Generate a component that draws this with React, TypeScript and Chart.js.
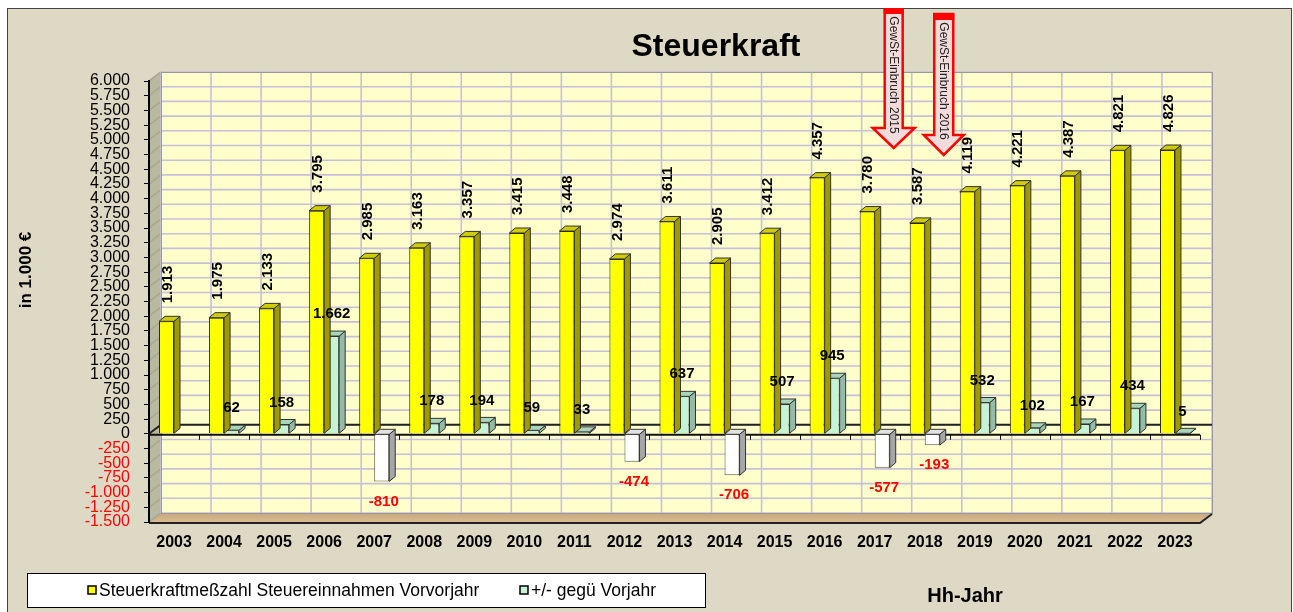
import React, { useEffect, useRef } from "react";
import { Chart, registerables } from "chart.js";

Chart.register(...registerables);

const years = ["2003", "2004", "2005", "2006", "2007", "2008", "2009", "2010", "2011", "2012", "2013", "2014", "2015", "2016", "2017", "2018", "2019", "2020", "2021", "2022", "2023"];
const steuerkraft = [1913, 1975, 2133, 3795, 2985, 3163, 3357, 3415, 3448, 2974, 3611, 2905, 3412, 4357, 3780, 3587, 4119, 4221, 4387, 4821, 4826];
const veraenderung: (number | null)[] = [null, 62, 158, 1662, -810, 178, 194, 59, 33, -474, 637, -706, 507, 945, -577, -193, 532, 102, 167, 434, 5];
const seriesNames = ["Steuerkraftmeßzahl Steuereinnahmen Vorvorjahr", "+/- gegü Vorjahr"];
const yMin = -1500;
const yMax = 6000;
const yStep = 250;
const chartTitle = "Steuerkraft";
const yTitle = "in 1.000 €";
const xTitle = "Hh-Jahr";
const arrowNotes = ["GewSt-Einbruch 2015", "GewSt-Einbruch 2016"];
const arrowYears = ["2017", "2018"];

const FONT = "'Liberation Sans', Arial, sans-serif";

function fmt(v: number): string {
  const s = Math.abs(Math.round(v)).toString();
  let out = "";
  for (let i = 0; i < s.length; i++) {
    if (i > 0 && (s.length - i) % 3 === 0) out += ".";
    out += s[i];
  }
  return (v < 0 ? "-" : "") + out;
}

const DX = 12;
const DY = -9;
const BDX = 6;
const BDY = -5;

const decorPlugin = {
  id: "decor",
  beforeDraw(chart: any) {
    const ctx = chart.ctx;
    const { left, right, top, bottom } = chart.chartArea;
    const W = chart.width;
    const H = chart.height;
    const yS = chart.scales.y;
    const xS = chart.scales.x;
    ctx.save();
    ctx.fillStyle = "#DDD9C4";
    ctx.fillRect(0, 0, W, H);
    ctx.strokeStyle = "#444";
    ctx.lineWidth = 1;
    ctx.strokeRect(0.5, 0.5, W - 1, H - 1);

    // back wall
    ctx.fillStyle = "#FFFFCC";
    ctx.fillRect(left + DX, top + DY, right - left, bottom - top);
    // left wall
    ctx.beginPath();
    ctx.moveTo(left, top);
    ctx.lineTo(left + DX, top + DY);
    ctx.lineTo(left + DX, bottom + DY);
    ctx.lineTo(left, bottom);
    ctx.closePath();
    ctx.fillStyle = "#B9B99F";
    ctx.fill();
    // floor
    const g = ctx.createLinearGradient(0, bottom + DY, 0, bottom);
    g.addColorStop(0, "#C9A77E");
    g.addColorStop(1, "#DDBB92");
    ctx.beginPath();
    ctx.moveTo(left, bottom);
    ctx.lineTo(right, bottom);
    ctx.lineTo(right + DX, bottom + DY);
    ctx.lineTo(left + DX, bottom + DY);
    ctx.closePath();
    ctx.fillStyle = g;
    ctx.fill();

    // grid lines on back wall
    ctx.strokeStyle = "#C6C0D8";
    ctx.lineWidth = 1.6;
    for (let v = yMin; v <= yMax; v += yStep) {
      const py = yS.getPixelForValue(v) + DY;
      ctx.beginPath();
      ctx.moveTo(left + DX, py);
      ctx.lineTo(right + DX, py);
      ctx.stroke();
      ctx.beginPath();
      ctx.moveTo(left, py - DY);
      ctx.lineTo(left + DX, py);
      ctx.strokeStyle = "#A9A990";
      ctx.stroke();
      ctx.strokeStyle = "#C6C0D8";
    }
    for (let i = 0; i <= years.length; i++) {
      const px = (i === years.length ? right : xS.getPixelForValue(i) - (xS.getPixelForValue(1) - xS.getPixelForValue(0)) / 2) + DX;
      ctx.beginPath();
      ctx.moveTo(px, top + DY);
      ctx.lineTo(px, bottom + DY);
      ctx.stroke();
    }
    ctx.strokeStyle = "#999";
    ctx.lineWidth = 1;
    ctx.strokeRect(left + DX + 0.5, top + DY + 0.5, right - left, bottom - top);

    // back zero line
    const y0 = yS.getPixelForValue(0);
    ctx.strokeStyle = "#222";
    ctx.lineWidth = 2;
    ctx.beginPath();
    ctx.moveTo(left, y0);
    ctx.lineTo(left + DX, y0 + DY);
    ctx.lineTo(right + DX, y0 + DY);
    ctx.stroke();

    // floor front edge
    ctx.lineWidth = 2;
    ctx.strokeStyle = "#222";
    ctx.beginPath();
    ctx.moveTo(left, bottom + 1);
    ctx.lineTo(right, bottom + 1);
    ctx.lineTo(right + DX, bottom + DY + 1);
    ctx.stroke();
    ctx.restore();
  },
  beforeDatasetsDraw(chart: any) {
    const ctx = chart.ctx;
    const { left, right } = chart.chartArea;
    const yS = chart.scales.y;
    const xS = chart.scales.x;
    const y0 = yS.getPixelForValue(0) + 1;
    const step = xS.getPixelForValue(1) - xS.getPixelForValue(0);
    ctx.save();
    ctx.strokeStyle = "#111";
    ctx.lineWidth = 2;
    ctx.beginPath();
    ctx.moveTo(left, y0);
    ctx.lineTo(right, y0);
    ctx.stroke();
    ctx.lineWidth = 1;
    for (let i = 1; i <= years.length; i++) {
      const px = Math.round(xS.getPixelForValue(i) - step / 2) + 0.5;
      ctx.beginPath();
      ctx.moveTo(px, y0);
      ctx.lineTo(px, y0 + 5);
      ctx.stroke();
    }
    ctx.restore();
  },
  afterDatasetDraw(chart: any, args: any) {
    const ctx = chart.ctx;
    const idx = args.index;
    const ds = chart.data.datasets[idx];
    const meta = args.meta;
    ctx.save();
    ctx.strokeStyle = "#333";
    ctx.lineWidth = 1;
    meta.data.forEach((el: any, i: number) => {
      const v = ds.data[i];
      if (v === null || v === undefined) return;
      const { x, y, base, width } = el.getProps(["x", "y", "base", "width"], true);
      const x0 = x - width / 2;
      const x1 = x + width / 2;
      const t = Math.min(y, base);
      const b = Math.max(y, base);
      let topC: string, sideC: string;
      if (idx === 0) {
        topC = "#CFCC00";
        sideC = "#9E9B00";
      } else if (v < 0) {
        topC = "#E2E2E2";
        sideC = "#A6A6A6";
      } else {
        topC = "#A9D6BB";
        sideC = "#93BCA4";
      }
      ctx.beginPath();
      ctx.moveTo(x1, t);
      ctx.lineTo(x1 + BDX, t + BDY);
      ctx.lineTo(x1 + BDX, b + BDY);
      ctx.lineTo(x1, b);
      ctx.closePath();
      ctx.fillStyle = sideC;
      ctx.fill();
      ctx.stroke();
      ctx.beginPath();
      ctx.moveTo(x0, t);
      ctx.lineTo(x0 + BDX, t + BDY);
      ctx.lineTo(x1 + BDX, t + BDY);
      ctx.lineTo(x1, t);
      ctx.closePath();
      ctx.fillStyle = topC;
      ctx.fill();
      ctx.stroke();
    });
    ctx.restore();
  },
  afterDraw(chart: any) {
    const ctx = chart.ctx;
    const xS = chart.scales.x;
    ctx.save();
    // value labels
    const m0 = chart.getDatasetMeta(0);
    const m1 = chart.getDatasetMeta(1);
    ctx.font = `bold 15px ${FONT}`;
    m0.data.forEach((el: any, i: number) => {
      const v = steuerkraft[i];
      const { x, y } = el.getProps(["x", "y"], true);
      ctx.save();
      ctx.translate(x + 1, y - 18);
      ctx.rotate(-Math.PI / 2);
      ctx.textAlign = "left";
      ctx.textBaseline = "middle";
      ctx.fillStyle = "#000";
      ctx.fillText(fmt(v), 0, 0);
      ctx.restore();
    });
    m1.data.forEach((el: any, i: number) => {
      const v = veraenderung[i];
      if (v === null) return;
      const { x, y } = el.getProps(["x", "y"], true);
      ctx.textAlign = "center";
      ctx.textBaseline = "middle";
      if (v < 0) {
        ctx.fillStyle = "#FF0000";
        ctx.fillText(fmt(v), x + 2, y + 20);
      } else {
        ctx.fillStyle = "#000";
        ctx.fillText(fmt(v), x, y - 22);
      }
    });

    // title
    ctx.fillStyle = "#000";
    ctx.font = `bold 32px ${FONT}`;
    ctx.textAlign = "center";
    ctx.textBaseline = "alphabetic";
    ctx.fillText(chartTitle, 709, 48);

    // y title
    ctx.save();
    ctx.translate(19, 262);
    ctx.rotate(-Math.PI / 2);
    ctx.font = `bold 17px ${FONT}`;
    ctx.textAlign = "center";
    ctx.textBaseline = "middle";
    ctx.fillText(yTitle, 0, 0);
    ctx.restore();

    // x title
    ctx.font = `bold 20px ${FONT}`;
    ctx.textAlign = "center";
    ctx.textBaseline = "middle";
    ctx.fillText(xTitle, 958, 588);

    // legend
    ctx.fillStyle = "#FFF";
    ctx.fillRect(20, 565, 678, 34);
    ctx.strokeStyle = "#000";
    ctx.lineWidth = 1;
    ctx.strokeRect(20.5, 565.5, 678, 34);
    const items = [
      { x: 81, color: "#FFFF00", text: seriesNames[0] },
      { x: 513, color: "#C6F2D6", text: seriesNames[1] },
    ];
    ctx.font = `17.5px ${FONT}`;
    ctx.textAlign = "left";
    ctx.textBaseline = "middle";
    items.forEach((it) => {
      ctx.fillStyle = it.color;
      ctx.fillRect(it.x, 578, 8, 8);
      ctx.strokeStyle = "#000";
      ctx.lineWidth = 1.5;
      ctx.strokeRect(it.x, 578, 8, 8);
      ctx.fillStyle = "#000";
      ctx.fillText(it.text, it.x + 11, 583);
    });

    // arrows
    const arrowGeo = [
      { top: 0, hs: 120, tip: 140, sh: 9, hh: 21 },
      { top: 6, hs: 127, tip: 147, sh: 9.5, hh: 20 },
    ];
    arrowNotes.forEach((note, k) => {
      const gI = years.indexOf(arrowYears[k]);
      const cx = xS.getPixelForValue(gI) + 19;
      const a = arrowGeo[k];
      ctx.beginPath();
      ctx.moveTo(cx - a.sh, a.top);
      ctx.lineTo(cx + a.sh, a.top);
      ctx.lineTo(cx + a.sh, a.hs);
      ctx.lineTo(cx + a.hh, a.hs);
      ctx.lineTo(cx, a.tip);
      ctx.lineTo(cx - a.hh, a.hs);
      ctx.lineTo(cx - a.sh, a.hs);
      ctx.closePath();
      ctx.fillStyle = "#F2DCDB";
      ctx.fill();
      ctx.strokeStyle = "#FF0000";
      ctx.lineWidth = 2.5;
      ctx.lineJoin = "miter";
      ctx.stroke();
      ctx.fillStyle = "#FF0000";
      ctx.fillRect(cx - a.sh - 1, a.top, a.sh * 2 + 2, 6);
      ctx.save();
      ctx.translate(cx, a.top + 67);
      ctx.rotate(Math.PI / 2);
      ctx.font = `12px ${FONT}`;
      ctx.textAlign = "center";
      ctx.textBaseline = "middle";
      ctx.fillStyle = "#222";
      ctx.fillText(note, 0, 0);
      ctx.restore();
    });
    ctx.restore();
  },
};

export default function App() {
  const ref = useRef<HTMLCanvasElement | null>(null);
  useEffect(() => {
    if (!ref.current) return;
    const chart = new Chart(ref.current, {
      type: "bar",
      data: {
        labels: years,
        datasets: [
          {
            label: seriesNames[0],
            data: steuerkraft,
            backgroundColor: "#FFFF00",
            borderColor: "#222",
            borderWidth: 1,
            categoryPercentage: 0.6,
            barPercentage: 1.0,
          },
          {
            label: seriesNames[1],
            data: veraenderung,
            backgroundColor: (c: any) => (c.raw !== null && c.raw < 0 ? "#FFFFFF" : "#C6F2D6"),
            borderColor: (c: any) => (c.raw !== null && c.raw < 0 ? "#555" : "#333"),
            borderWidth: 1,
            categoryPercentage: 0.6,
            barPercentage: 1.0,
          },
        ],
      },
      options: {
        responsive: false,
        animation: false,
        devicePixelRatio: 1,
        layout: { padding: { left: 0, top: 73, right: 92, bottom: 0 } },
        plugins: { legend: { display: false }, tooltip: { enabled: false }, title: { display: false } },
        scales: {
          x: {
            grid: { display: false },
            border: { display: false },
            ticks: { font: { family: FONT, size: 16, weight: "bold" }, color: "#000", padding: 3, autoSkip: false, maxRotation: 0 },
            afterFit: (s: any) => {
              s.height = 92;
            },
          },
          y: {
            min: yMin,
            max: yMax,
            grid: { display: true, drawOnChartArea: false, drawTicks: true, tickLength: 5, color: "#000" },
            border: { display: true, color: "#000", width: 2 },
            ticks: {
              stepSize: yStep,
              autoSkip: false,
              padding: 14,
              font: { family: FONT, size: 16 },
              color: (c: any) => (c.tick && c.tick.value < 0 ? "#FF0000" : "#000"),
              callback: (v: any) => fmt(Number(v)),
            },
            afterFit: (s: any) => {
              s.width = 142;
            },
          },
        },
      },
      plugins: [decorPlugin],
    } as any);
    return () => chart.destroy();
  }, []);
  return (
    <div style={{ position: "fixed", left: 7, top: 8 }}>
      <canvas ref={ref} width={1285} height={606} style={{ display: "block", width: 1285, height: 606 }} />
    </div>
  );
}
